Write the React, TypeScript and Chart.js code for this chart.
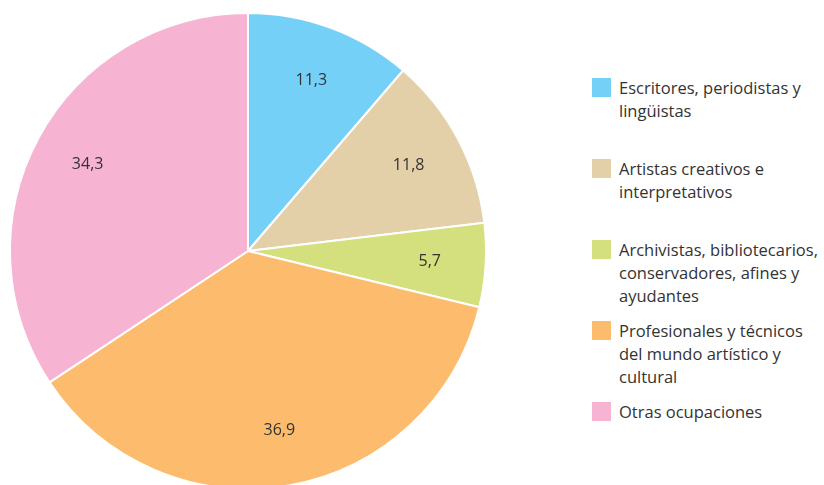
import React, { useEffect, useRef } from "react";
import { Chart, registerables } from "chart.js";

Chart.register(...registerables);

const categories = [
  "Escritores, periodistas y lingüistas",
  "Artistas creativos e interpretativos",
  "Archivistas, bibliotecarios, conservadores, afines y ayudantes",
  "Profesionales y técnicos del mundo artístico y cultural",
  "Otras ocupaciones",
];
const legendLines = [
  ["Escritores, periodistas y", "lingüistas"],
  ["Artistas creativos e", "interpretativos"],
  ["Archivistas, bibliotecarios,", "conservadores, afines y", "ayudantes"],
  ["Profesionales y técnicos", "del mundo artístico y", "cultural"],
  ["Otras ocupaciones"],
];
const values = [11.3, 11.8, 5.7, 36.9, 34.3];
const colors = ["#75d0f7", "#e3d0a9", "#d4e07d", "#fdbc6d", "#f7b3d2"];

const FONT = "'Open Sans', 'Noto Sans', sans-serif";

const labelPlugin = {
  id: "sliceLabels",
  afterDatasetsDraw(chart: any) {
    const ctx = chart.ctx;
    const meta = chart.getDatasetMeta(0);
    ctx.save();
    ctx.fillStyle = "#333333";
    ctx.font = `16px ${FONT}`;
    ctx.textAlign = "center";
    ctx.textBaseline = "middle";
    meta.data.forEach((arc: any, i: number) => {
      const p = arc.getProps(["x", "y", "startAngle", "endAngle", "outerRadius"], true);
      const a = (p.startAngle + p.endAngle) / 2;
      const r = p.outerRadius * 0.765;
      const txt = values[i].toFixed(1).replace(".", ",");
      ctx.fillText(txt, p.x + Math.cos(a) * r, p.y + Math.sin(a) * r);
    });
    ctx.restore();
  },
};

export default function App() {
  const ref = useRef<HTMLCanvasElement>(null);
  useEffect(() => {
    if (!ref.current) return;
    const chart = new Chart(ref.current, {
      type: "pie",
      data: {
        labels: categories,
        datasets: [
          {
            data: values,
            backgroundColor: colors,
            borderColor: "#ffffff",
            borderWidth: 2,
            radius: 238,
          },
        ],
      },
      options: {
        responsive: false,
        animation: false,
        layout: { padding: 0 },
        plugins: { legend: { display: false }, tooltip: { enabled: false } },
      },
      plugins: [labelPlugin],
    });
    return () => chart.destroy();
  }, []);

  return (
    <div style={{ position: "fixed", left: 0, top: 0, width: 824, height: 485, background: "#fff", overflow: "hidden" }}>
      <canvas ref={ref} width={496} height={502} style={{ position: "absolute", left: 0, top: 0 }} />
      <div style={{ position: "absolute", left: 592, top: 77, width: 232, fontFamily: FONT, color: "#333", fontSize: 16.5, lineHeight: "23px" }}>
        {categories.map((c, i) => (
          <div key={c} style={{ display: "flex", height: 81, alignItems: "flex-start" }}>
            <div style={{ width: 19, height: 19, background: colors[i], flex: "0 0 19px", marginTop: 1 }} />
            <div style={{ marginLeft: 8, whiteSpace: "nowrap", marginTop: -1 }}>
              {legendLines[i].map((l) => (
                <div key={l}>{l}</div>
              ))}
            </div>
          </div>
        ))}
      </div>
    </div>
  );
}
